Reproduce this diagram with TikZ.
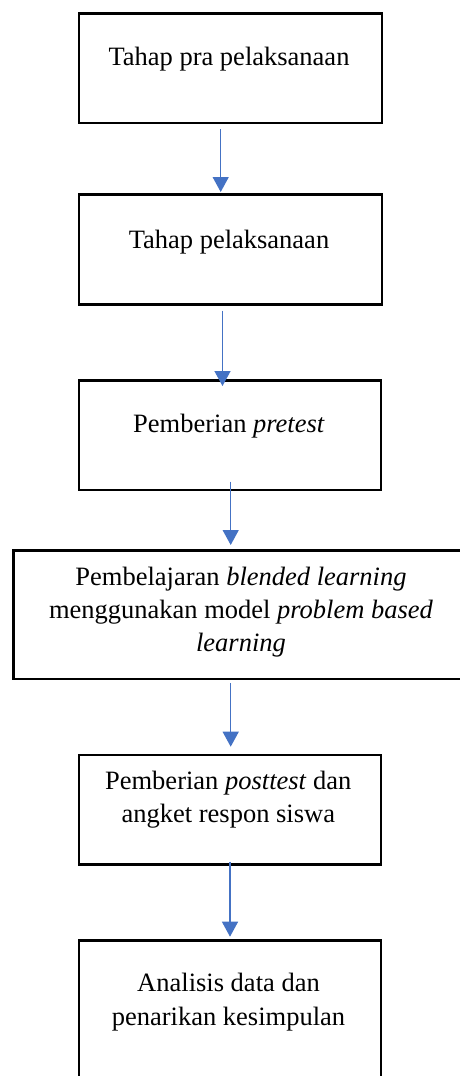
\documentclass[tikz,border=0pt]{standalone}
\usepackage{fontspec}
\setmainfont{Liberation Serif}
\usetikzlibrary{arrows.meta}
\definecolor{arrowblue}{HTML}{4472C4}
\begin{document}
\begin{tikzpicture}[x=1pt,y=-1pt,
  box/.style={draw=black, line width=2.3pt, inner sep=0pt, anchor=north west},
  txt/.style={anchor=base, inner sep=0pt, align=center, font=\fontsize{26.5}{33}\selectfont},
  arr/.style={draw=arrowblue, line width=1.4pt, -{Triangle[width=16pt,length=15pt]}}]
\useasboundingbox (0,0) rectangle (460,1076);
\clip (0,0) rectangle (460,1076);
\fill[white] (0,0) rectangle (460,1076);
% boxes
\node[box, minimum width=303pt, minimum height=109.4pt] (b1) at (77.5,12.3) {};
\node[box, minimum width=303pt, minimum height=110pt] (b2) at (77.5,193.3) {};
\node[box, minimum width=302.3pt, minimum height=109.7pt] (b3) at (77.7,379.3) {};
\node[box, minimum width=457.7pt, minimum height=128.7pt] (b4) at (12.3,549.3) {};
\node[box, minimum width=302.3pt, minimum height=109.3pt] (b5) at (77.7,754) {};
\node[box, minimum width=302.3pt, minimum height=160pt] (b6) at (77.7,939.3) {};
% texts
\node[txt] (t1) at (229,65) {Tahap pra pelaksanaan};
\node[txt] (t2) at (229,248) {Tahap pelaksanaan};
\node[txt] (t3) at (229,432.7) {Pemberian \textit{pretest}};
\node[txt] (t4a) at (241,585) {Pembelajaran \textit{blended learning}};
\node[txt] (t4b) at (241,618) {menggunakan model \textit{problem based}};
\node[txt] (t4c) at (241,651.7) {\textit{learning}};
\node[txt] (t5a) at (228.3,789.3) {Pemberian \textit{posttest} dan};
\node[txt] (t5b) at (228.3,822.7) {angket respon siswa};
\node[txt] (t6a) at (228.5,991.7) {Analisis data dan};
\node[txt] (t6b) at (228.5,1025) {penarikan kesimpulan};
% arrow end points
\coordinate (a1s) at (220.7,129);   \coordinate (a1e) at (220.7,192);
\coordinate (a2s) at (222.5,310.7); \coordinate (a2e) at (222.5,386);
\coordinate (a3s) at (230.7,481.7); \coordinate (a3e) at (230.7,545);
\coordinate (a4s) at (230.7,683.3); \coordinate (a4e) at (230.7,746.7);
\coordinate (a5s) at (230,861.7);   \coordinate (a5e) at (230,936.7);
\draw[arr] (a1s) -- (a1e);
\draw[arr] (a2s) -- (a2e);
\draw[arr] (a3s) -- (a3e);
\draw[arr] (a4s) -- (a4e);
\draw[arr] (a5s) -- (a5e);
\end{tikzpicture}
\end{document}
